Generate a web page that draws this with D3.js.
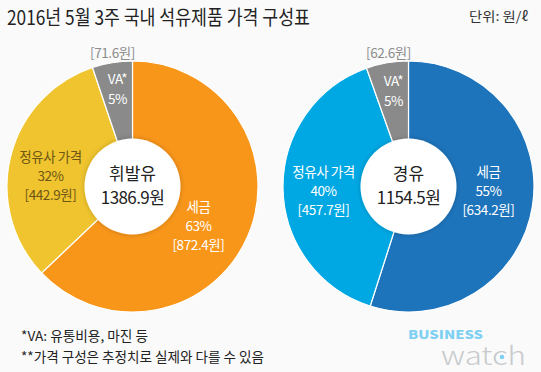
<!DOCTYPE html>
<html><head><meta charset="utf-8">
<script src="https://cdn.jsdelivr.net/npm/d3@7"></script>
<style>
html,body{margin:0;padding:0;background:#fafafa;}
text{font-family:"Noto Sans CJK KR","Noto Sans",sans-serif;}
</style></head>
<body>
<svg id="c" width="541" height="372"></svg>
<script>
// ---- data ----
const categories = ["세금", "정유사 가격", "VA*"];
const gasolineValues = [872.4, 442.9, 71.6];
const gasolinePct = ["63%", "32%", "5%"];
const dieselValues = [634.2, 457.7, 62.6];
const dieselPct = ["55%", "40%", "5%"];
const totals = ["1386.9원", "1154.5원"];
const fuelNames = ["휘발유", "경유"];
const titleText = "2016년 5월 3주 국내 석유제품 가격 구성표";
const unitText = "단위: 원/ℓ";
const notes = ["*VA: 유통비용, 마진 등", "**가격 구성은 추정치로 실제와 다를 수 있음"];

// ---- layout ----
const svg = d3.select("#c");
svg.append("rect").attr("width",541).attr("height",372).attr("fill","#fafafa");
const defs = svg.append("defs");
const f = defs.append("filter").attr("id","sh").attr("x","-30%").attr("y","-30%").attr("width","160%").attr("height","160%");
f.append("feDropShadow").attr("dx",0).attr("dy",0).attr("stdDeviation",2.5).attr("flood-color","#000").attr("flood-opacity",0.22);

svg.append("text").attr("x",7).attr("y",25).attr("font-size",20).attr("fill","#222")
  .attr("textLength",303).attr("lengthAdjust","spacingAndGlyphs").text(titleText);
svg.append("text").attr("x",469).attr("y",21).attr("font-size",13).attr("fill","#333")
  .attr("textLength",59).attr("lengthAdjust","spacingAndGlyphs").text(unitText);

const charts = [
  {cx:132.5, cy:186.5, values:gasolineValues, pct:gasolinePct, name:fuelNames[0], total:totals[0],
   colors:["#f8961a","#efc42e","#8a8a8a"], textColors:["#fff","#6e5715","#fff"],
   labelPos:[[66,40],[-82,-10],[-15,-98]]},
  {cx:408.5, cy:186.5, values:dieselValues, pct:dieselPct, name:fuelNames[1], total:totals[1],
   colors:["#1e74bb","#00a8e3","#8a8a8a"], textColors:["#fff","#fff","#fff"],
   labelPos:[[80,5],[-85,5],[-15,-96]]}
];
const R = 125.5, rInner = 48;
const pie = d3.pie().sort(null).value(d=>d);
const arc = d3.arc().innerRadius(0).outerRadius(R);

charts.forEach(ch=>{
  const g = svg.append("g").attr("transform",`translate(${ch.cx},${ch.cy})`);
  const arcs = pie(ch.values);
  g.selectAll("path").data(arcs).join("path")
    .attr("d",arc).attr("fill",(d,i)=>ch.colors[i])
    .attr("stroke","#fff").attr("stroke-width",1.2).attr("stroke-linejoin","bevel");
  g.append("circle").attr("r",rInner).attr("fill","#fff").attr("filter","url(#sh)");
  g.append("text").attr("y",-7).attr("text-anchor","middle").attr("font-size",17).attr("fill","#222").text(ch.name);
  g.append("text").attr("y",17).attr("text-anchor","middle").attr("font-size",17).attr("fill","#222")
    .attr("letter-spacing",-0.6).text(ch.total);
  arcs.forEach((a,i)=>{
    const [lx,ly] = ch.labelPos[i];
    const fmt = d3.format(".1f");
    if(i<2){
      const lines = [categories[i], ch.pct[i], "["+fmt(ch.values[i])+"원]"];
      lines.forEach((t,k)=>{
        g.append("text").attr("x",lx).attr("y",ly-20+k*19+5).attr("text-anchor","middle")
          .attr("font-size",13.5).attr("letter-spacing",-0.4).attr("fill",ch.textColors[i]).text(t);
      });
    } else {
      g.append("text").attr("x",lx).attr("y",ly-10+5).attr("text-anchor","middle")
        .attr("font-size",13.5).attr("letter-spacing",-0.4).attr("fill","#fff").text(categories[i]);
      g.append("text").attr("x",lx).attr("y",ly+10+5).attr("text-anchor","middle")
        .attr("font-size",13.5).attr("letter-spacing",-0.4).attr("fill","#fff").text(ch.pct[i]);
      g.append("text").attr("x",lx-5).attr("y",-129).attr("text-anchor","middle")
        .attr("font-size",13.5).attr("letter-spacing",-0.4).attr("fill","#8c8c8c")
        .text("["+fmt(ch.values[i])+"원]");
    }
  });
});

// notes
svg.append("text").attr("x",21).attr("y",341).attr("font-size",13.5).attr("fill","#222")
  .attr("textLength",127).attr("lengthAdjust","spacingAndGlyphs").text(notes[0]);
svg.append("text").attr("x",21).attr("y",362).attr("font-size",13.5).attr("fill","#222")
  .attr("textLength",243).attr("lengthAdjust","spacingAndGlyphs").text(notes[1]);

// logo
svg.append("text").attr("x",408).attr("y",339).attr("font-family","Roboto,'DejaVu Sans',sans-serif")
  .attr("font-weight",900).attr("font-size",12).attr("fill","#7fd0f2")
  .attr("textLength",75).attr("lengthAdjust","spacingAndGlyphs").text("BUSINESS");
svg.append("text").attr("x",441).attr("y",365).attr("font-family","Lato,Roboto,sans-serif")
  .attr("font-weight",300).attr("font-size",25).attr("fill","#c8cacc")
  .attr("textLength",85).attr("lengthAdjust","spacingAndGlyphs").text("watch");
svg.append("circle").attr("cx",502).attr("cy",357).attr("r",2.3).attr("fill","#7fd0f2");
</script>
</body></html>
